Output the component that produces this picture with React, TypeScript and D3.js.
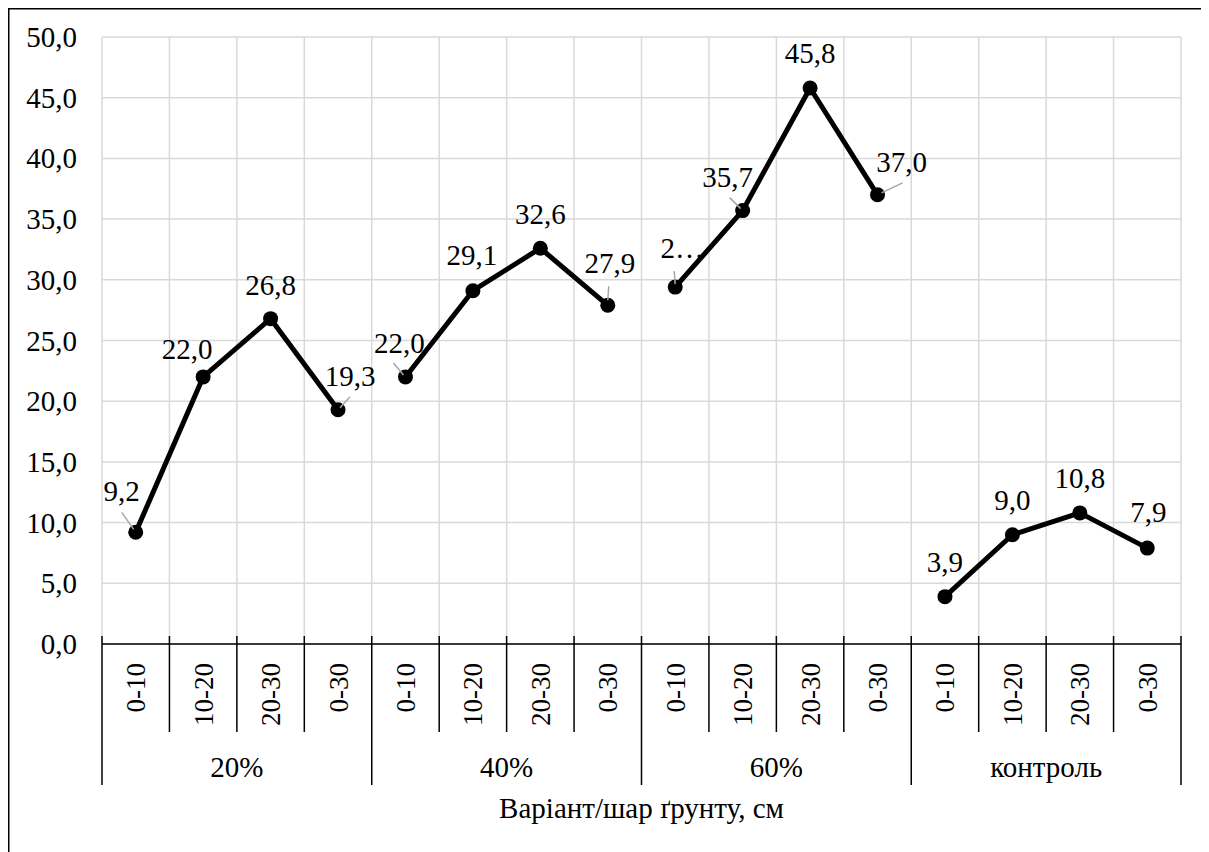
import React, { useEffect, useRef } from "react";
import * as d3 from "d3";

// Variants (groups) and soil layers (categories within each group)
const groups = ["20%", "40%", "60%", "контроль"];
const layers = ["0-10", "10-20", "20-30", "0-30"];

// Values per group, in layer order
const values20 = [9.2, 22.0, 26.8, 19.3];
const values40 = [22.0, 29.1, 32.6, 27.9];
const values60 = [29.4, 35.7, 45.8, 37.0];
const valuesControl = [3.9, 9.0, 10.8, 7.9];

const yTicks = [0, 5, 10, 15, 20, 25, 30, 35, 40, 45, 50];
const axisTitle = "Варіант/шар ґрунту, см";

// Label placement (offset of label centre/baseline from its point)
const labelOffsets: [number, number][] = [
  [-14, -31], [-16, -18], [0, -24], [12, -24],
  [-6, -24], [-1, -26], [0, -24], [2, -32],
  [7, -29], [-15, -24], [0, -25], [24, -23],
  [0, -25], [0, -25], [0, -25], [1, -26],
];
// Leader lines for labels that sit away from their point: [x1, y1, x2, y2] relative to point
const leaders: ([number, number, number, number] | null)[] = [
  [-14, -20, -2, -3], null, null, [12, -13, 2, -2],
  [-12, -14, -2, -2], null, null, [1, -19, 0, -5],
  [-1, -16, 0, -3], [-13, -13, -2, -2], null, [25, -12, 4, -2],
  null, null, null, null,
];
// Labels that are shown truncated
const labelText: (string | null)[] = [
  null, null, null, null, null, null, null, null,
  "2…", null, null, null, null, null, null, null,
];

const series = [values20, values40, values60, valuesControl];

const fmt = (v: number) => v.toFixed(1).replace(".", ",");

const FONT = "Liberation Serif";

export default function App() {
  const ref = useRef<SVGSVGElement>(null);

  const W = 1201;
  const H = 844;

  useEffect(() => {
    const left = 94;
    const right = 1173;
    const top = 29;
    const bottom = 636;
    const fs = 29;
    const fsCat = 27;

    const svg = d3.select(ref.current);
    svg.selectAll("*").remove();

    const keys: string[] = [];
    groups.forEach((g) => layers.forEach((l) => keys.push(g + "|" + l)));

    const x = d3.scaleBand<string>().domain(keys).range([left, right]).padding(0);
    const y = d3.scaleLinear().domain([0, 50]).range([bottom, top]);
    const bw = x.bandwidth();
    const boundaries = d3.range(keys.length + 1).map((i) => left + i * bw);

    svg.append("rect").attr("width", W).attr("height", H).attr("fill", "#fff");
    svg
      .append("rect")
      .attr("x", 0.75)
      .attr("y", 0.75)
      .attr("width", W + 50)
      .attr("height", H + 50)
      .attr("fill", "none")
      .attr("stroke", "#000")
      .attr("stroke-width", 1.5);

    // gridlines
    svg
      .selectAll("line.h")
      .data(yTicks)
      .join("line")
      .attr("x1", left)
      .attr("x2", right)
      .attr("y1", (d) => y(d))
      .attr("y2", (d) => y(d))
      .attr("stroke", "#d9d9d9")
      .attr("stroke-width", 1.5);
    svg
      .selectAll("line.v")
      .data(boundaries)
      .join("line")
      .attr("x1", (d) => d)
      .attr("x2", (d) => d)
      .attr("y1", top)
      .attr("y2", bottom)
      .attr("stroke", "#d9d9d9")
      .attr("stroke-width", 1.5);

    const txt = (sel: d3.Selection<SVGTextElement, any, any, any>, size: number) =>
      sel.attr("font-family", FONT).style("font-family", `"${FONT}"`).attr("font-size", size).attr("fill", "#000");

    // y tick labels
    svg
      .selectAll("text.yl")
      .data(yTicks)
      .join("text")
      .attr("x", 69)
      .attr("y", (d) => y(d) + 10)
      .attr("text-anchor", "end")
      .call((s: any) => txt(s, fs))
      .text((d) => fmt(d));

    // category axis line and ticks
    svg
      .append("line")
      .attr("x1", left)
      .attr("x2", right)
      .attr("y1", bottom)
      .attr("y2", bottom)
      .attr("stroke", "#000")
      .attr("stroke-width", 1.5);
    svg
      .selectAll("line.t")
      .data(boundaries)
      .join("line")
      .attr("x1", (d) => d)
      .attr("x2", (d) => d)
      .attr("y1", bottom - 8)
      .attr("y2", (_, i) => (i % layers.length === 0 ? bottom + 141 : bottom + 88))
      .attr("stroke", "#000")
      .attr("stroke-width", 1.5);

    svg
      .selectAll("text.cl")
      .data(keys)
      .join("text")
      .attr("transform", (k) => `translate(${(x(k) as number) + bw / 2 + 9.5},${bottom + 19}) rotate(-90)`)
      .attr("text-anchor", "end")
      .call((s: any) => txt(s, fsCat))
      .text((k) => k.split("|")[1]);

    svg
      .selectAll("text.g")
      .data(groups)
      .join("text")
      .attr("x", (_, gi) => left + (gi + 0.5) * layers.length * bw)
      .attr("y", bottom + 133)
      .attr("text-anchor", "middle")
      .call((s: any) => txt(s, fs))
      .text((g) => g);

    svg
      .append("text")
      .attr("x", (left + right) / 2)
      .attr("y", bottom + 174)
      .attr("text-anchor", "middle")
      .call((s: any) => txt(s, fs))
      .text(axisTitle);

    // lines, broken between groups
    series.forEach((vals, gi) => {
      const xs = layers.map((l) => (x(groups[gi] + "|" + l) as number) + bw / 2);
      const path = d3
        .line<number>()
        .x((_, i) => xs[i])
        .y((d) => y(d))(vals);
      svg
        .append("path")
        .attr("d", path || "")
        .attr("fill", "none")
        .attr("stroke", "#000")
        .attr("stroke-width", 5)
        .attr("stroke-linejoin", "round");
    });

    // markers, leader lines, data labels
    series.forEach((vals, gi) => {
      vals.forEach((v, li) => {
        const idx = gi * layers.length + li;
        const cx = (x(groups[gi] + "|" + layers[li]) as number) + bw / 2;
        const cy = y(v);
        const [dx, dy] = labelOffsets[idx];
        const ld = leaders[idx];
        svg.append("circle").attr("cx", cx).attr("cy", cy).attr("r", 7.5).attr("fill", "#000");
        if (ld) {
          svg
            .append("line")
            .attr("x1", cx + ld[0])
            .attr("y1", cy + ld[1])
            .attr("x2", cx + ld[2])
            .attr("y2", cy + ld[3])
            .attr("stroke", "#a6a6a6")
            .attr("stroke-width", 1.5);
        }
        svg
          .append("text")
          .attr("x", cx + dx)
          .attr("y", cy + dy)
          .attr("text-anchor", "middle")
          .call((s: any) => txt(s, fs))
          .text(labelText[idx] ?? fmt(v));
      });
    });
  }, []);

  return <svg ref={ref} width={W} height={H} />;
}
